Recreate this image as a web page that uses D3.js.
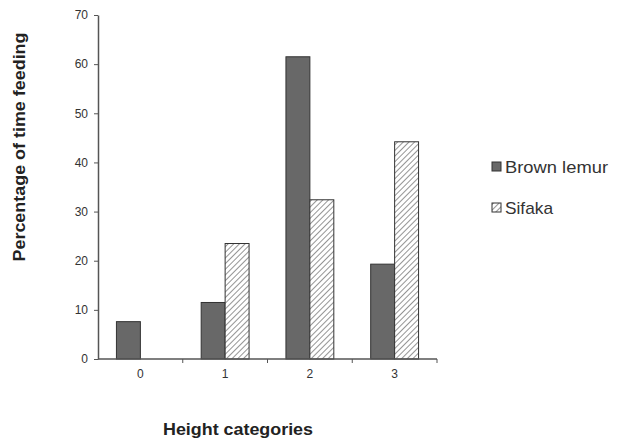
<!DOCTYPE html>
<html>
<head>
<meta charset="utf-8">
<script src="https://cdn.jsdelivr.net/npm/d3@7"></script>
<style>
  html, body { margin: 0; padding: 0; background: #fff; }
  svg { display: block; font-family: "Liberation Sans", Arial, sans-serif; }
</style>
</head>
<body>
<svg id="chart" width="623" height="440"></svg>
<script>
const categories = ["0", "1", "2", "3"];
const seriesNames = ["Brown lemur", "Sifaka"];
const brownLemur = [7.6, 11.5, 61.5, 19.3];
const sifaka = [0, 23.5, 32.4, 44.2];
const yTicks = [0, 10, 20, 30, 40, 50, 60, 70];

const svg = d3.select("#chart");
const margin = { left: 98, right: 186, top: 15, bottom: 81 };
const W = 623, H = 440;

const defs = svg.append("defs");
const pat = defs.append("pattern")
  .attr("id", "hatch")
  .attr("patternUnits", "userSpaceOnUse")
  .attr("width", 4).attr("height", 4)
  .attr("patternTransform", "rotate(45)");
pat.append("rect").attr("width", 4).attr("height", 4).attr("fill", "#fff");
pat.append("line").attr("x1", 0).attr("y1", 0).attr("x2", 0).attr("y2", 4)
  .attr("stroke", "#7a7a7a").attr("stroke-width", 1.6);

const x0 = d3.scaleBand().domain(categories).range([margin.left, W - margin.right]).padding(0);
const x1 = d3.scaleBand().domain(seriesNames).range([0, x0.bandwidth()]).paddingInner(0).paddingOuter(0.77);
const y = d3.scaleLinear().domain([0, 70]).range([H - margin.bottom, margin.top]);

const fills = { "Brown lemur": "#686868", "Sifaka": "url(#hatch)" };
const data = categories.map((c, i) => ({ cat: c, values: [
  { key: "Brown lemur", value: brownLemur[i] },
  { key: "Sifaka", value: sifaka[i] }
]}));

const groups = svg.append("g").selectAll("g").data(data).join("g")
  .attr("transform", d => `translate(${x0(d.cat)},0)`);
groups.selectAll("rect").data(d => d.values.filter(v => v.value > 0)).join("rect")
  .attr("x", d => x1(d.key))
  .attr("y", d => y(d.value))
  .attr("width", x1.bandwidth())
  .attr("height", d => y(0) - y(d.value))
  .attr("fill", d => fills[d.key])
  .attr("stroke", "#333")
  .attr("stroke-width", 1);

// Y axis
const yAxis = svg.append("g").attr("transform", `translate(${margin.left},0)`)
  .call(d3.axisLeft(y).tickValues(yTicks).tickSize(4).tickSizeOuter(0).tickPadding(6));
yAxis.select(".domain").attr("stroke", "#555").attr("stroke-width", 1.5);
yAxis.selectAll(".tick line").attr("stroke", "#555");
yAxis.selectAll(".tick text").attr("fill", "#333").style("font-size", "12px");

// X axis with ticks at band boundaries
const xAxisG = svg.append("g").attr("transform", `translate(0,${y(0)})`);
xAxisG.append("line").attr("x1", margin.left).attr("x2", W - margin.right)
  .attr("y1", 0).attr("y2", 0).attr("stroke", "#555").attr("stroke-width", 1.5);
const boundaries = categories.map(c => x0(c) + x0.bandwidth());
xAxisG.selectAll("line.tk").data(boundaries).join("line").attr("class", "tk")
  .attr("x1", d => d).attr("x2", d => d).attr("y1", 0).attr("y2", 4)
  .attr("stroke", "#555");
xAxisG.selectAll("text").data(categories).join("text")
  .attr("x", d => x0(d) + x0.bandwidth() / 2)
  .attr("y", 19)
  .attr("text-anchor", "middle")
  .attr("fill", "#333")
  .style("font-size", "12px")
  .text(d => d);

// Titles
svg.append("text")
  .attr("transform", "translate(25,147) rotate(-90)")
  .attr("text-anchor", "middle")
  .attr("textLength", 229).attr("lengthAdjust", "spacingAndGlyphs")
  .style("font-size", "17px").style("font-weight", "bold")
  .attr("fill", "#222")
  .text("Percentage of time feeding");
svg.append("text")
  .attr("x", 238).attr("y", 435)
  .attr("text-anchor", "middle")
  .attr("textLength", 150).attr("lengthAdjust", "spacingAndGlyphs")
  .style("font-size", "17px").style("font-weight", "bold")
  .attr("fill", "#222")
  .text("Height categories");

// Legend
const legend = svg.append("g");
const legY = d3.scalePoint().domain(seriesNames).range([167, 208]);
const legWidths = { "Brown lemur": 103, "Sifaka": 48 };
seriesNames.forEach(name => {
  legend.append("rect")
    .attr("x", 492).attr("y", legY(name) - 5)
    .attr("width", 9).attr("height", 9)
    .attr("fill", fills[name]).attr("stroke", "#333").attr("stroke-width", 1);
  legend.append("text")
    .attr("x", 505).attr("y", legY(name) + 6)
    .attr("textLength", legWidths[name]).attr("lengthAdjust", "spacingAndGlyphs")
    .style("font-size", "17px")
    .attr("fill", "#333")
    .text(name);
});
</script>
</body>
</html>
